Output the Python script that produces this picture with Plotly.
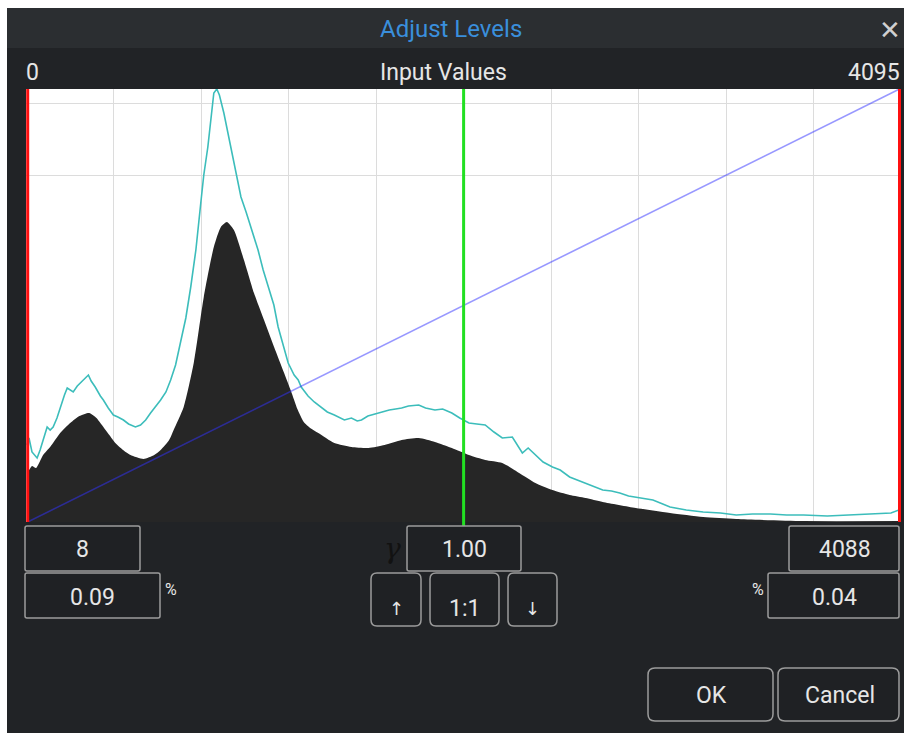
import plotly.graph_objects as go

# ── Data ─────────────────────────────────────────────────────
# histogram of the image (input value -> relative count), drawn as black area
hist_values = [5, 14, 28, 47, 80, 113, 160, 207, 250, 296, 330, 348, 390, 418, 460,
               489, 550, 600, 630, 670, 691, 738, 785, 832, 879, 912, 940, 973, 1020,
               1067, 1114, 1161, 1208, 1240, 1270, 1300, 1330, 1368, 1443, 1523, 1603,
               1678, 1758, 1838, 1914, 1993, 2073, 2149, 2229, 2308, 2384, 2464, 2544,
               2619, 2699, 2854, 3014, 3169, 3324, 3639, 4095]
hist_counts = [570, 520, 560, 540, 670, 750, 890, 990, 1060, 1090, 1040, 990, 870, 790,
               710, 670, 630, 670, 720, 820, 920, 1150, 1590, 2250, 2750, 2950, 3000,
               2920, 2620, 2290, 2020, 1750, 1490, 1310, 1130, 1000, 940, 890, 790, 750,
               740, 770, 820, 840, 800, 740, 670, 620, 590, 490, 390, 320, 270, 240, 200,
               140, 90, 50, 30, 10, 10]

# scaled histogram envelope, drawn as cyan line
env_values = [5, 14, 28, 52, 66, 80, 99, 113, 127, 145, 160, 180, 193, 207, 221, 240,
              254, 270, 292, 305, 324, 348, 362, 385, 409, 430, 456, 480, 512, 536, 560,
              583, 606, 630, 655, 677, 700, 724, 748, 771, 795, 818, 832, 851, 865, 879,
              893, 905, 926, 940, 959, 980, 1006, 1030, 1053, 1086, 1110, 1133, 1160,
              1180, 1205, 1227, 1255, 1274, 1288, 1320, 1349, 1380, 1410, 1443, 1470,
              1490, 1523, 1550, 1570, 1600, 1650, 1700, 1730, 1758, 1790, 1838, 1870,
              1914, 1950, 1993, 2030, 2073, 2110, 2149, 2190, 2229, 2276, 2323, 2350,
              2384, 2420, 2464, 2500, 2544, 2580, 2619, 2660, 2699, 2740, 2779, 2820,
              2854, 2900, 2934, 2980, 3014, 3090, 3169, 3250, 3324, 3400, 3484, 3560,
              3639, 3750, 3874, 3960, 4048, 4086, 4095]
env_counts = [770, 840, 700, 640, 720, 820, 950, 920, 950, 1040, 1150, 1270, 1340, 1320,
              1300, 1360, 1390, 1420, 1470, 1410, 1350, 1260, 1220, 1140, 1070, 1050,
              1020, 980, 950, 970, 1020, 1090, 1150, 1220, 1300, 1420, 1570, 1820, 2040,
              2350, 2720, 3190, 3470, 3750, 4040, 4290, 4330, 4270, 4090, 3940, 3720,
              3500, 3250, 3100, 2950, 2720, 2520, 2350, 2170, 1950, 1770, 1590, 1470,
              1420, 1350, 1260, 1200, 1150, 1100, 1070, 1040, 1020, 1040, 1010, 1020,
              1060, 1090, 1120, 1130, 1140, 1160, 1170, 1140, 1120, 1130, 1090, 1040,
              990, 980, 970, 900, 840, 850, 690, 740, 670, 600, 550, 520, 450, 420, 390,
              350, 320, 310, 290, 260, 250, 230, 220, 180, 150, 120, 100, 90, 70, 80, 80,
              70, 70, 60, 70, 80, 90, 120, 170]

black_point = 8
white_point = 4088
mid_point = 2048
gamma_text = "1.00"
low_clip_text = "0.09"
high_clip_text = "0.04"
x_max = 4095
y_max = 4330
grid_x = [409.5, 819, 1228.5, 1638, 2047.5, 2457, 2866.5, 3276, 3685.5]
grid_y = [3470, 4190]

# ── Look ─────────────────────────────────────────────────────
W, H = 904, 733
PL, PR, PT, PB = 26, 901, 89, 522          # plot area, px
TITLE_BG = "#2b2e31"
BG = "#212326"
TXT = "#e6e6e6"
BORDER = "#9c9c9c"
FONT = "Roboto, sans-serif"


def fx(px):
    return (px - PL) / (PR - PL)


def fy(py):
    return (PB - py) / (PB - PT)


def rrect(x0, y0, x1, y1, r=4):
    rx, ry = r / (PR - PL), r / (PB - PT)
    X0, X1, Y0, Y1 = fx(x0), fx(x1), fy(y0), fy(y1)
    return (f"M {X0+rx},{Y0} L {X1-rx},{Y0} Q {X1},{Y0} {X1},{Y0-ry} "
            f"L {X1},{Y1+ry} Q {X1},{Y1} {X1-rx},{Y1} L {X0+rx},{Y1} "
            f"Q {X0},{Y1} {X0},{Y1+ry} L {X0},{Y0-ry} Q {X0},{Y0} {X0+rx},{Y0} Z")


fig = go.Figure()
fig.add_trace(go.Scatter(
    x=hist_values, y=hist_counts, mode="lines", fill="tozeroy",
    line=dict(width=0, color="#262626", shape="spline", smoothing=0.6),
    fillcolor="#262626", hoverinfo="skip",
))
fig.add_trace(go.Scatter(
    x=env_values, y=env_counts, mode="lines",
    line=dict(width=1.6, color="#3cbdbb"), hoverinfo="skip",
))
fig.add_trace(go.Scatter(
    x=[black_point, white_point], y=[0, y_max], mode="lines",
    line=dict(width=1.6, color="rgba(50,50,255,0.5)"), hoverinfo="skip",
))

shapes = [
    # white strips outside the dialog (top and left)
    dict(type="rect", xref="paper", yref="paper", x0=fx(-5), x1=fx(W + 5), y0=fy(8), y1=fy(-5),
         fillcolor="white", line_width=0, layer="below"),
    dict(type="rect", xref="paper", yref="paper", x0=fx(-5), x1=fx(7), y0=fy(H + 5), y1=fy(-5),
         fillcolor="white", line_width=0, layer="below"),
    # title bar
    dict(type="rect", xref="paper", yref="paper", x0=fx(7), x1=fx(W + 5), y0=fy(48), y1=fy(8),
         fillcolor=TITLE_BG, line_width=0, layer="below"),
    # black / white point markers and midpoint
    dict(type="line", xref="x", yref="paper", x0=black_point, x1=black_point, y0=0, y1=1,
         line=dict(color="#ff1010", width=3)),
    dict(type="line", xref="x", yref="paper", x0=white_point, x1=white_point, y0=0, y1=1,
         line=dict(color="#ff1010", width=3)),
    dict(type="line", xref="x", yref="paper", x0=mid_point, x1=mid_point, y0=fy(526), y1=1,
         line=dict(color="#22e022", width=3)),
]

boxes = [
    (25, 526, 140, 571, 2), (25, 573, 160, 618, 2), (407, 526, 521, 571, 2),
    (789, 526, 899, 571, 2), (768, 573, 899, 618, 2),
    (371, 573, 421, 626, 6), (430, 573, 499, 626, 6), (508, 573, 557, 626, 6),
    (648, 668, 773, 721, 7), (778, 668, 899, 721, 7),
]
for x0, y0, x1, y1, r in boxes:
    shapes.append(dict(type="path", xref="paper", yref="paper", path=rrect(x0, y0, x1, y1, r),
                       fillcolor="#1f2124", line=dict(color=BORDER, width=1.5)))


def label(text, px, py, size=23, color=TXT, anchor="center", family=FONT):
    return dict(text=text, xref="paper", yref="paper", x=fx(px), y=fy(py),
                xanchor=anchor, yanchor="middle", showarrow=False,
                font=dict(family=family, size=size, color=color))


annotations = [
    label("Adjust Levels", 451, 29, size=24, color="#3a8fdc"),
    label("✕", 890, 30, size=26, color="#d0d0d0", family="DejaVu Sans"),
    label("0", 24, 72, anchor="left"),
    label("Input Values", 443, 72),
    label(str(x_max), 902, 72, anchor="right"),
    label(str(black_point), 82, 549),
    label(low_clip_text, 92, 597),
    label("%", 171, 589, size=16),
    label("<i>γ</i>", 392, 548, size=28, color="#121212", family="DejaVu Serif"),
    label(gamma_text, 464, 549),
    label("↑", 396, 608, size=18, family="DejaVu Sans"),
    label("1:1", 464, 608),
    label("↓", 532, 608, size=18, family="DejaVu Sans"),
    label(str(white_point), 845, 549),
    label("%", 758, 589, size=16),
    label(high_clip_text, 834, 597),
    label("OK", 711, 695),
    label("Cancel", 840, 695),
]

fig.update_layout(
    width=W, height=H,
    margin=dict(l=PL, r=W - PR, t=PT, b=H - PB, pad=0),
    paper_bgcolor=BG, plot_bgcolor="white",
    showlegend=False, hovermode=False,
    xaxis=dict(range=[0, x_max], tickvals=grid_x, showticklabels=False, ticks="",
               showgrid=True, gridcolor="#dcdcdc", gridwidth=1, zeroline=False, fixedrange=True),
    yaxis=dict(range=[0, y_max], tickvals=grid_y, showticklabels=False, ticks="",
               showgrid=True, gridcolor="#dcdcdc", gridwidth=1, zeroline=False, fixedrange=True),
    shapes=shapes,
    annotations=annotations,
)

# drop the page margin so the figure fills the window exactly
fig.write_html(
    "out.html",
    config=dict(displayModeBar=False),
    post_script="document.body.style.margin='0';document.body.style.overflow='hidden';",
)
